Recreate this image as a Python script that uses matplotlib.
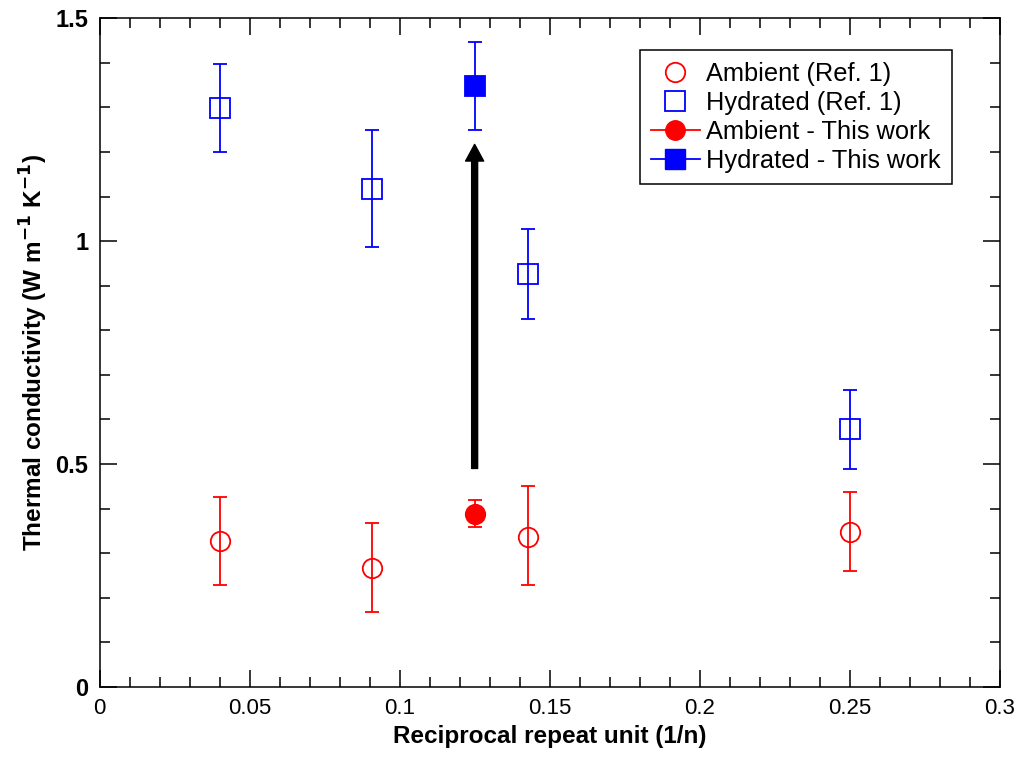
import numpy as np
import matplotlib
matplotlib.use("Agg")
import matplotlib.pyplot as plt
from matplotlib.lines import Line2D
from matplotlib.ticker import MultipleLocator, FormatStrFormatter

plt.rcParams['font.family'] = ['Liberation Sans', 'DejaVu Sans']

# Daten aus Ref. 1 (x = 1/n)
x_ref = [0.04, 1 / 11, 1 / 7, 0.25]
amb_ref = [0.328, 0.267, 0.337, 0.347]
amb_ref_lo = [0.229, 0.167, 0.229, 0.259]
amb_ref_hi = [0.427, 0.368, 0.45, 0.437]
hyd_ref = [1.298, 1.117, 0.927, 0.578]
hyd_ref_lo = [1.2, 0.987, 0.826, 0.488]
hyd_ref_hi = [1.397, 1.249, 1.027, 0.666]

# Diese Arbeit
x_work = [0.125]
amb_work = [0.388]
amb_work_lo = [0.359]
amb_work_hi = [0.42]
hyd_work = [1.348]
hyd_work_lo = [1.25]
hyd_work_hi = [1.447]

# Pfeil (ambient -> hydratisiert)
arrow_x = 0.125
arrow_from = 0.49
arrow_to = 1.217

labels = ['Ambient (Ref. 1)', 'Hydrated (Ref. 1)',
          'Ambient - This work', 'Hydrated - This work']

red = '#ff0000'
blue = '#0000ff'


def yerr(y, lo, hi):
    y = np.asarray(y)
    return [y - np.asarray(lo), np.asarray(hi) - y]


fig = plt.figure(figsize=(10.16, 7.59), dpi=100)
ax = fig.add_axes([0.098, 0.095, 0.886, 0.881])

ms = 14
ekw = dict(linestyle='none', elinewidth=1.3, capsize=5, capthick=1.3, markeredgewidth=1.3)

ax.errorbar(x_ref, amb_ref, yerr=yerr(amb_ref, amb_ref_lo, amb_ref_hi),
            marker='o', ms=ms, mfc='none', mec=red, ecolor=red, **ekw)
ax.errorbar(x_ref, hyd_ref, yerr=yerr(hyd_ref, hyd_ref_lo, hyd_ref_hi),
            marker='s', ms=ms, mfc='none', mec=blue, ecolor=blue, **ekw)
ax.errorbar(x_work, amb_work, yerr=yerr(amb_work, amb_work_lo, amb_work_hi),
            marker='o', ms=ms, mfc=red, mec=red, ecolor=red, **ekw)
ax.errorbar(x_work, hyd_work, yerr=yerr(hyd_work, hyd_work_lo, hyd_work_hi),
            marker='s', ms=ms, mfc=blue, mec=blue, ecolor=blue, **ekw)

ax.annotate('', xy=(arrow_x, arrow_to), xytext=(arrow_x, arrow_from),
            arrowprops=dict(facecolor='black', edgecolor='black',
                            width=4.3, headwidth=13, headlength=12, shrink=0))

ax.set_xlim(0, 0.3)
ax.set_ylim(0, 1.5)
ax.xaxis.set_major_locator(MultipleLocator(0.05))
ax.xaxis.set_minor_locator(MultipleLocator(0.01))
ax.yaxis.set_major_locator(MultipleLocator(0.5))
ax.yaxis.set_minor_locator(MultipleLocator(0.1))
ax.xaxis.set_major_formatter(FormatStrFormatter('%g'))
ax.yaxis.set_major_formatter(FormatStrFormatter('%g'))

ax.tick_params(which='both', direction='in', top=True, right=True, width=1.1)
ax.tick_params(which='major', length=12)
ax.tick_params(which='minor', length=7)
ax.tick_params(axis='x', labelsize=16, pad=8)
ax.tick_params(axis='y', labelsize=17, pad=8)
for lab in ax.get_yticklabels():
    lab.set_fontweight('bold')
for sp in ax.spines.values():
    sp.set_linewidth(1.1)

ax.set_xlabel('Reciprocal repeat unit (1/n)', fontsize=17.5, fontweight='bold', labelpad=4)
ax.set_ylabel('Thermal conductivity (W m$^{\\mathbf{-1}}$ K$^{\\mathbf{-1}}$)',
              fontsize=17.5, fontweight='bold', labelpad=4)

handles = [
    Line2D([], [], linestyle='none', marker='o', ms=ms, mfc='none', mec=red, mew=1.3),
    Line2D([], [], linestyle='none', marker='s', ms=ms, mfc='none', mec=blue, mew=1.3),
    Line2D([], [], color=red, lw=1.3, marker='o', ms=ms, mfc=red, mec=red),
    Line2D([], [], color=blue, lw=1.3, marker='s', ms=ms, mfc=blue, mec=blue),
]
leg = ax.legend(handles, labels, loc='upper right', bbox_to_anchor=(0.947, 0.952),
                borderaxespad=0, fontsize=18.3, fancybox=False, framealpha=1,
                edgecolor='black', handlelength=1.9, handletextpad=0.25,
                labelspacing=0.2, borderpad=0.45)
leg.get_frame().set_linewidth(1.1)

fig.savefig('out.png', dpi=100)
